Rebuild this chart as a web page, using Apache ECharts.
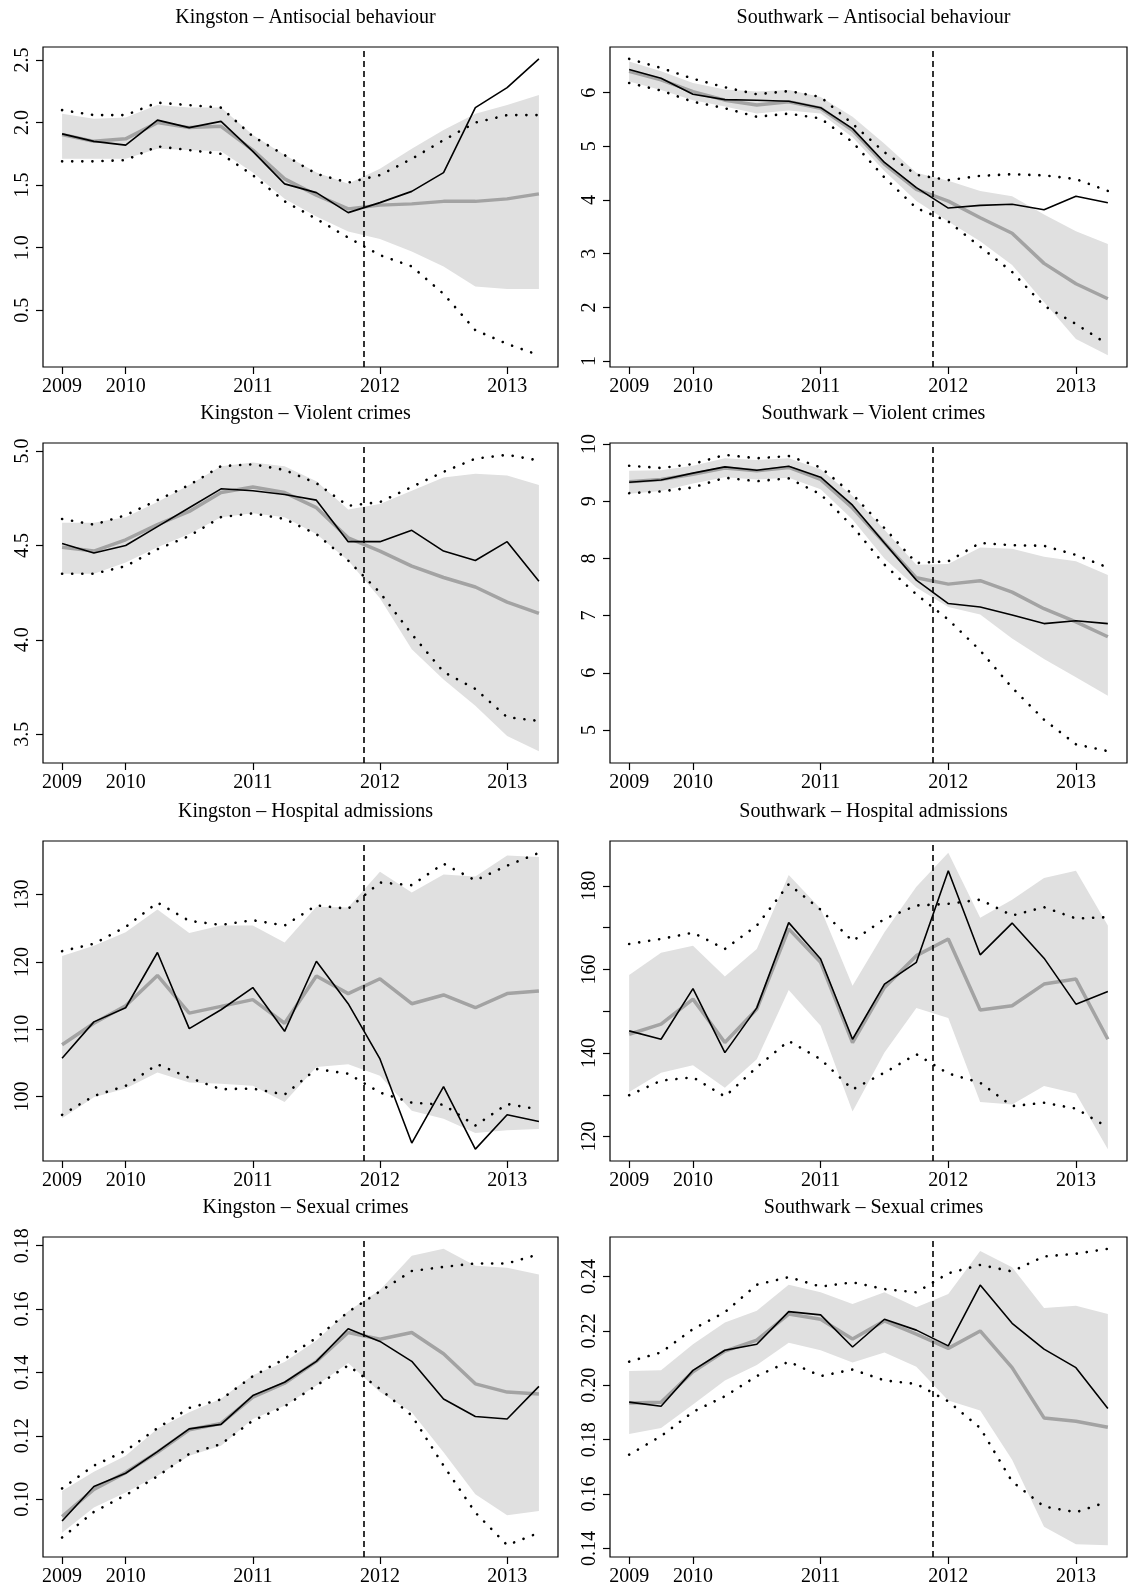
<!DOCTYPE html>
<html><head><meta charset="utf-8">
<script src="https://cdn.jsdelivr.net/npm/echarts@6/dist/echarts.min.js"></script>
<style>html,body{margin:0;padding:0;background:#fff}#c{width:1130px;height:1589px}</style>
</head><body><div id="c"></div>
<script>
const xTickPos = [0, 2, 6, 10, 14];
const xTickLabels = ['2009', '2010', '2011', '2012', '2013'];
const interventionX = 9.5;

const titles = ['Kingston – Antisocial behaviour','Southwark – Antisocial behaviour','Kingston – Violent crimes','Southwark – Violent crimes','Kingston – Hospital admissions','Southwark – Hospital admissions','Kingston – Sexual crimes','Southwark – Sexual crimes'];

// Panel 1: Kingston ASB
const kAsbActual = [1.91,1.85,1.82,2.02,1.96,2.01,1.77,1.51,1.44,1.28,1.36,1.45,1.60,2.12,2.28,2.51];
const kAsbMean   = [1.905,1.85,1.87,2.00,1.96,1.97,1.78,1.55,1.42,1.31,1.34,1.35,1.37,1.37,1.39,1.43];
const kAsbBandHi = [2.07,2.03,2.04,2.14,2.12,2.12,1.90,1.74,1.60,1.51,1.63,1.79,1.94,2.07,2.14,2.22];
const kAsbBandLo = [1.71,1.71,1.71,1.79,1.78,1.77,1.60,1.39,1.25,1.13,1.07,0.97,0.85,0.69,0.67,0.67];
const kAsbDotHi  = [2.10,2.06,2.06,2.16,2.14,2.12,1.89,1.74,1.59,1.52,1.58,1.71,1.86,2.00,2.06,2.06];
const kAsbDotLo  = [1.69,1.69,1.70,1.81,1.78,1.75,1.58,1.37,1.23,1.08,0.94,0.85,0.63,0.34,0.23,0.14];
const kAsbTicks = [0.5,1.0,1.5,2.0,2.5];
const kAsbLabels = ['0.5','1.0','1.5','2.0','2.5'];

// Panel 2: Southwark ASB
const sAsbActual = [6.43,6.27,5.97,5.87,5.86,5.84,5.72,5.33,4.70,4.23,3.85,3.90,3.92,3.82,4.07,3.95];
const sAsbMean   = [6.40,6.24,6.02,5.86,5.77,5.83,5.71,5.30,4.67,4.20,3.98,3.67,3.38,2.82,2.44,2.16];
const sAsbBandHi = [6.58,6.40,6.18,6.06,6.02,6.05,5.92,5.55,5.05,4.51,4.36,4.17,4.07,3.73,3.42,3.18];
const sAsbBandLo = [6.21,6.05,5.86,5.74,5.61,5.67,5.61,5.17,4.54,3.98,3.60,3.23,2.79,2.10,1.41,1.11];
const sAsbDotHi  = [6.63,6.46,6.26,6.10,5.97,6.03,5.92,5.42,4.89,4.47,4.37,4.45,4.48,4.46,4.39,4.17];
const sAsbDotLo  = [6.18,6.04,5.83,5.71,5.55,5.61,5.52,5.08,4.42,3.85,3.60,3.13,2.66,2.03,1.69,1.31];
const sAsbTicks = [1,2,3,4,5,6];
const sAsbLabels = ['1','2','3','4','5','6'];

// Panel 3: Kingston violent
const kVioActual = [4.51,4.46,4.50,4.60,4.70,4.80,4.79,4.77,4.74,4.52,4.52,4.58,4.47,4.42,4.52,4.31];
const kVioMean   = [4.49,4.47,4.53,4.61,4.68,4.78,4.81,4.78,4.70,4.54,4.47,4.39,4.33,4.28,4.20,4.14];
const kVioBandHi = [4.62,4.62,4.65,4.73,4.82,4.92,4.94,4.92,4.84,4.69,4.72,4.79,4.86,4.88,4.87,4.82];
const kVioBandLo = [4.35,4.35,4.41,4.49,4.56,4.65,4.67,4.65,4.56,4.42,4.22,3.95,3.79,3.65,3.49,3.41];
const kVioDotHi  = [4.64,4.61,4.66,4.74,4.82,4.92,4.93,4.90,4.83,4.71,4.73,4.81,4.89,4.96,4.98,4.95];
const kVioDotLo  = [4.35,4.35,4.39,4.48,4.55,4.65,4.67,4.64,4.56,4.42,4.25,4.03,3.83,3.74,3.59,3.57];
const kVioTicks = [3.5,4.0,4.5,5.0];
const kVioLabels = ['3.5','4.0','4.5','5.0'];

// Panel 4: Southwark violent
const sVioActual = [9.33,9.37,9.49,9.60,9.54,9.61,9.42,8.93,8.27,7.62,7.21,7.15,7.01,6.86,6.91,6.86];
const sVioMean   = [9.34,9.38,9.47,9.58,9.53,9.59,9.38,8.88,8.27,7.66,7.55,7.61,7.41,7.12,6.89,6.63];
const sVioBandHi = [9.53,9.54,9.62,9.75,9.72,9.75,9.56,9.09,8.50,7.89,7.90,8.19,8.17,8.03,7.95,7.71];
const sVioBandLo = [9.13,9.18,9.31,9.42,9.38,9.41,9.21,8.68,8.00,7.49,7.15,7.02,6.60,6.24,5.92,5.60];
const sVioDotHi  = [9.62,9.58,9.65,9.81,9.75,9.79,9.59,9.12,8.53,7.92,7.95,8.27,8.23,8.22,8.06,7.84];
const sVioDotLo  = [9.14,9.17,9.24,9.41,9.35,9.40,9.12,8.56,7.89,7.37,6.93,6.39,5.74,5.18,4.75,4.63];
const sVioTicks = [5,6,7,8,9,10];
const sVioLabels = ['5','6','7','8','9','10'];

// Panel 5: Kingston hospital
const kHosActual = [105.7,111.1,113.2,121.4,110.1,112.9,116.2,109.7,120.1,113.8,105.6,93.1,101.5,92.2,97.3,96.3];
const kHosMean   = [107.7,110.9,113.5,118.0,112.4,113.4,114.4,110.9,117.9,115.3,117.5,113.8,115.1,113.2,115.3,115.7];
const kHosBandHi = [120.9,122.4,124.4,127.8,124.3,125.4,125.4,122.9,128.2,128.1,133.4,130.3,133.0,132.7,135.8,135.6];
const kHosBandLo = [96.8,99.9,101.2,103.6,102.1,101.9,101.6,99.2,104.4,104.8,103.1,97.9,96.7,94.6,95.0,95.2];
const kHosDotHi  = [121.6,122.7,125.2,128.8,126.1,125.5,126.2,125.4,128.4,127.9,131.8,131.4,134.6,132.1,134.3,136.2];
const kHosDotLo  = [97.3,100.1,101.6,104.8,102.8,101.1,101.2,100.3,104.1,103.4,100.6,99.1,98.8,95.7,98.9,98.1];
const kHosTicks = [100,110,120,130];
const kHosLabels = ['100','110','120','130'];

// Panel 6: Southwark hospital
const sHosActual = [145.3,143.3,155.4,140.1,150.8,171.2,162.5,143.3,156.5,161.7,183.6,163.5,171.1,162.7,151.7,154.7];
const sHosMean   = [144.5,146.9,152.9,142.5,150.5,169.7,161.7,142.5,155.7,163.3,167.3,150.3,151.3,156.5,157.7,143.3];
const sHosBandHi = [158.7,164.0,165.7,158.3,164.9,182.6,174.5,156.1,168.9,179.8,187.9,172.4,176.7,181.9,183.6,170.5];
const sHosBandLo = [130.7,135.3,137.1,131.7,138.5,155.1,146.5,126.0,140.1,150.8,148.4,128.3,127.7,132.1,130.3,117.0];
const sHosDotHi  = [166.1,167.3,168.8,164.9,170.5,180.4,174.3,166.8,172.1,175.3,175.7,176.7,172.9,174.9,172.2,172.5];
const sHosDotLo  = [129.9,133.4,134.2,129.6,136.6,142.9,138.5,131.3,135.3,139.7,135.1,132.9,127.3,128.1,126.7,122.2];
const sHosTicks = [120,130,140,150,160,170,180];
const sHosLabels = ['120','','140','','160','','180'];

// Panel 7: Kingston sexual
const kSexActual = [0.0931,0.1040,0.1082,0.1150,0.1222,0.1236,0.1327,0.1369,0.1435,0.1538,0.1498,0.1435,0.1316,0.1261,0.1253,0.1356];
const kSexMean   = [0.0945,0.1031,0.1084,0.1148,0.1219,0.1239,0.1322,0.1366,0.1435,0.1526,0.1505,0.1526,0.1459,0.1364,0.1338,0.1332];
const kSexBandHi = [0.1026,0.1087,0.1137,0.1222,0.1274,0.1317,0.1391,0.1433,0.1501,0.1593,0.1660,0.1768,0.1790,0.1737,0.1730,0.1709];
const kSexBandLo = [0.0894,0.0974,0.1021,0.1074,0.1137,0.1169,0.1253,0.1295,0.1359,0.1430,0.1338,0.1274,0.1148,0.1016,0.0949,0.0963];
const kSexDotHi  = [0.1034,0.1106,0.1153,0.1224,0.1288,0.1315,0.1388,0.1443,0.1509,0.1591,0.1656,0.1720,0.1733,0.1744,0.1744,0.1773];
const kSexDotLo  = [0.0879,0.0960,0.1013,0.1072,0.1143,0.1174,0.1248,0.1293,0.1359,0.1422,0.1348,0.1264,0.1106,0.0958,0.0855,0.0894];
const kSexTicks = [0.10,0.12,0.14,0.16,0.18];
const kSexLabels = ['0.10','0.12','0.14','0.16','0.18'];

// Panel 8: Southwark sexual
const sSexActual = [0.1938,0.1923,0.2055,0.2129,0.2151,0.2271,0.2259,0.2141,0.2243,0.2203,0.2145,0.2369,0.2228,0.2133,0.2065,0.1915];
const sSexMean   = [0.1935,0.1938,0.2050,0.2126,0.2166,0.2262,0.2243,0.2170,0.2237,0.2188,0.2136,0.2200,0.2065,0.1880,0.1868,0.1846];
const sSexBandHi = [0.2053,0.2055,0.2151,0.2231,0.2274,0.2370,0.2342,0.2299,0.2342,0.2287,0.2336,0.2494,0.2434,0.2284,0.2293,0.2262];
const sSexBandLo = [0.1821,0.1843,0.1929,0.2018,0.2075,0.2157,0.2129,0.2084,0.2121,0.2068,0.1944,0.1907,0.1726,0.1480,0.1415,0.1412];
const sSexDotHi  = [0.2087,0.2121,0.2207,0.2269,0.2370,0.2398,0.2363,0.2379,0.2354,0.2342,0.2412,0.2443,0.2419,0.2474,0.2484,0.2502];
const sSexDotLo  = [0.1745,0.1813,0.1902,0.1960,0.2034,0.2087,0.2034,0.2058,0.2018,0.2005,0.1941,0.1843,0.1646,0.1554,0.1533,0.1572];
const sSexTicks = [0.14,0.16,0.18,0.20,0.22,0.24];
const sSexLabels = ['0.14','0.16','0.18','0.20','0.22','0.24'];

const panels = [
 [kAsbActual,kAsbMean,kAsbBandHi,kAsbBandLo,kAsbDotHi,kAsbDotLo,kAsbTicks,kAsbLabels],
 [sAsbActual,sAsbMean,sAsbBandHi,sAsbBandLo,sAsbDotHi,sAsbDotLo,sAsbTicks,sAsbLabels],
 [kVioActual,kVioMean,kVioBandHi,kVioBandLo,kVioDotHi,kVioDotLo,kVioTicks,kVioLabels],
 [sVioActual,sVioMean,sVioBandHi,sVioBandLo,sVioDotHi,sVioDotLo,sVioTicks,sVioLabels],
 [kHosActual,kHosMean,kHosBandHi,kHosBandLo,kHosDotHi,kHosDotLo,kHosTicks,kHosLabels],
 [sHosActual,sHosMean,sHosBandHi,sHosBandLo,sHosDotHi,sHosDotLo,sHosTicks,sHosLabels],
 [kSexActual,kSexMean,kSexBandHi,kSexBandLo,kSexDotHi,kSexDotLo,kSexTicks,kSexLabels],
 [sSexActual,sSexMean,sSexBandHi,sSexBandLo,sSexDotHi,sSexDotLo,sSexTicks,sSexLabels]
];

const FONT = 'Liberation Serif';
const colLeft = [43, 610], colW = [515, 517];
const rowTop = [47, 443, 841, 1237], rowH = 320;

const grids = [], xAxes = [], yAxes = [], series = [], titleOpts = [];
panels.forEach((p, k) => {
  const [act, mean, bhi, blo, dhi, dlo, ticks, labels] = p;
  const col = k % 2, row = Math.floor(k / 2);
  const all = act.concat(mean, bhi, blo, dhi, dlo);
  const lo = Math.min(...all), hi = Math.max(...all), pad = (hi - lo) * 0.04;
  grids.push({left: colLeft[col], top: rowTop[row], width: colW[col], height: rowH,
    show: true, borderColor: '#000', borderWidth: 1.2, backgroundColor: 'transparent'});
  titleOpts.push({text: titles[k], left: colLeft[col] + colW[col] / 2, top: rowTop[row] - 44, textAlign: 'center',
    textStyle: {fontFamily: FONT, fontSize: 20, fontWeight: 'normal', color: '#000'}});
  xAxes.push({type: 'value', gridIndex: k, min: -0.6, max: 15.6, position: 'bottom', splitLine: {show: false},
    axisLine: {show: false, onZero: false},
    axisTick: {show: true, inside: false, customValues: xTickPos, length: 7, lineStyle: {color: '#000', width: 1.2}},
    axisLabel: {customValues: xTickPos, formatter: v => xTickLabels[xTickPos.indexOf(Math.round(v))] || '',
      fontFamily: FONT, fontSize: 20, color: '#000', margin: 10}});
  yAxes.push({type: 'value', gridIndex: k, min: lo - pad, max: hi + pad, position: 'left', splitLine: {show: false},
    axisLine: {show: false, onZero: false},
    axisTick: {show: true, inside: false, customValues: ticks, length: 7, lineStyle: {color: '#000', width: 1.2}},
    axisLabel: {customValues: ticks, rotate: 90, formatter: v => { const i = ticks.findIndex(t => Math.abs(t - v) < 1e-9); return i >= 0 ? labels[i] : ''; },
      fontFamily: FONT, fontSize: 20, color: '#000', margin: 10}});
  const idx = act.map((_, i) => i);
  series.push({type: 'custom', xAxisIndex: k, yAxisIndex: k, silent: true, z: 1,
    data: idx.map(i => [i, blo[i], bhi[i]]),
    renderItem: (params, api) => {
      if (params.dataIndex !== 0) return null;
      const top = idx.map(i => api.coord([i, bhi[i]]));
      const bot = idx.slice().reverse().map(i => api.coord([i, blo[i]]));
      return {type: 'polygon', shape: {points: top.concat(bot)}, style: {fill: '#e0e0e0'}};
    }});
  const mk = (arr, style, z) => ({type: 'line', xAxisIndex: k, yAxisIndex: k, z, silent: true,
    data: idx.map(i => [i, arr[i]]), symbol: 'none', lineStyle: style});
  series.push(mk(dhi, {color: '#000', width: 2.6, type: [0.1, 10], cap: 'round'}, 2));
  series.push(mk(dlo, {color: '#000', width: 2.6, type: [0.1, 10], cap: 'round'}, 2));
  series.push(mk(mean, {color: '#a3a3a3', width: 3.5}, 3));
  const a = mk(act, {color: '#000', width: 1.6}, 4);
  a.markLine = {silent: true, symbol: 'none', label: {show: false},
    lineStyle: {color: '#000', width: 1.6, type: [6, 4]}, data: [{xAxis: interventionX}]};
  series.push(a);
});

const chart = echarts.init(document.getElementById('c'), null, {renderer: 'canvas'});
chart.setOption({animation: false, backgroundColor: '#fff', title: titleOpts,
  grid: grids, xAxis: xAxes, yAxis: yAxes, series});
</script></body></html>
